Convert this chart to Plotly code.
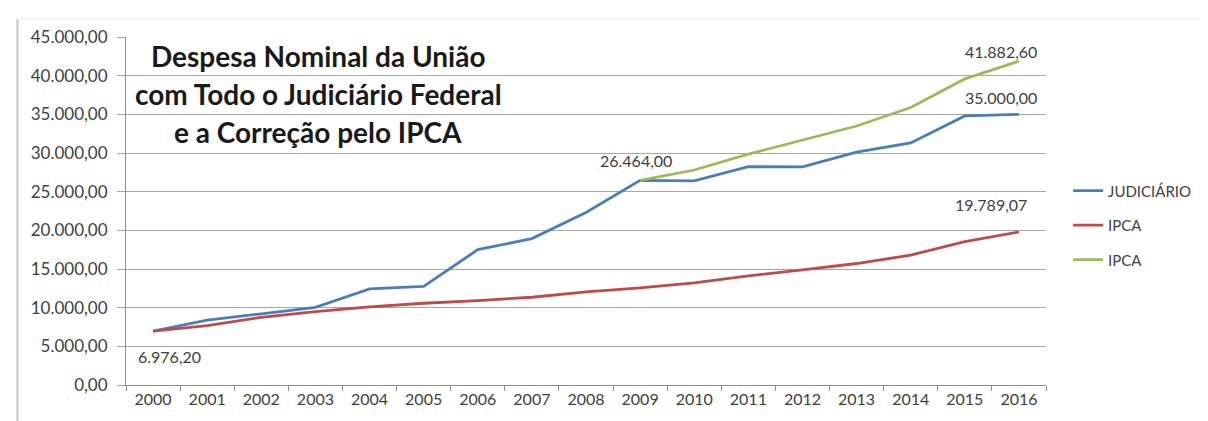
import plotly.graph_objects as go

years = [str(y) for y in range(2000, 2017)]
judiciario = [6976.20, 8400, 9200, 10050, 12430, 12740, 17500, 18930, 22300, 26464.00,
              26400, 28230, 28200, 30100, 31300, 34800, 35000.00]
ipca = [6976.20, 7670, 8750, 9490, 10090, 10570, 10920, 11350, 12030, 12550,
        13200, 14110, 14890, 15710, 16800, 18530, 19789.07]
ipca_years = years[9:]
ipca_2009 = [26464.00, 27800, 29850, 31640, 33490, 35880, 39580, 41882.60]

y_ticks = [0, 5000, 10000, 15000, 20000, 25000, 30000, 35000, 40000, 45000]
y_tick_text = ["0,00", "5.000,00", "10.000,00", "15.000,00", "20.000,00", "25.000,00",
               "30.000,00", "35.000,00", "40.000,00", "45.000,00"]
title_lines = ["Despesa Nominal da União", "com Todo o Judiciário Federal", "e a Correção pelo IPCA"]

BLUE = "#4a7ebb"
RED = "#be4b48"
GREEN = "#9bbb59"
FONT = "Lato, 'Open Sans', sans-serif"

fig = go.Figure()
fig.add_trace(go.Scatter(x=years, y=judiciario, mode="lines", name="JUDICIÁRIO",
                         line=dict(color=BLUE, width=2.8), legendgroup="a"))
fig.add_trace(go.Scatter(x=years, y=ipca, mode="lines", name="IPCA",
                         line=dict(color=RED, width=2.8), legendgroup="b"))
fig.add_trace(go.Scatter(x=ipca_years, y=ipca_2009, mode="lines", name="IPCA",
                         line=dict(color=GREEN, width=2.8), legendgroup="c"))

ann_font = dict(family=FONT, size=16, color="#404040")
i2000 = years.index("2000")
i2009 = years.index("2009")
i2016 = years.index("2016")
annotations = [
    dict(x=i2000, y=ipca[0], text="6.976,20", showarrow=False, xanchor="left",
         yanchor="middle", xshift=-17, yshift=-25, font=ann_font),
    dict(x=i2009, y=judiciario[i2009], text="26.464,00", showarrow=False, xanchor="center",
         yanchor="middle", xshift=-4, yshift=20, font=ann_font),
    dict(x=i2016, y=ipca_2009[-1], text="41.882,60", showarrow=False,
         xanchor="center", yanchor="middle", xshift=-18, yshift=10, font=ann_font),
    dict(x=i2016, y=judiciario[i2016], text="35.000,00", showarrow=False,
         xanchor="center", yanchor="middle", xshift=-18, yshift=17, font=ann_font),
    dict(x=i2016, y=ipca[i2016], text="19.789,07", showarrow=False,
         xanchor="center", yanchor="middle", xshift=-28, yshift=27, font=ann_font),
]
for line, yp in zip(title_lines, [0.945, 0.836, 0.727]):
    annotations.append(dict(x=0.2087, y=yp, xref="paper", yref="paper", text="<b>" + line + "</b>",
                            showarrow=False, xanchor="center", yanchor="middle",
                            font=dict(family=FONT, size=28, color="#1a1a1a")))

fig.update_layout(
    width=1208, height=421,
    margin=dict(l=118, r=170, t=29, b=44),
    paper_bgcolor="white", plot_bgcolor="white",
    font=dict(family=FONT, color="#404040"),
    showlegend=True,
    legend=dict(x=1.024, y=0.605, xanchor="left", yanchor="top",
                font=dict(family=FONT, size=15, color="#404040"),
                tracegroupgap=12, bgcolor="rgba(0,0,0,0)"),
    annotations=annotations,
    shapes=[
        dict(type="line", xref="paper", yref="paper", x0=-0.118, x1=-0.118, y0=-0.11, y1=1.052,
             line=dict(color="#c8c8c8", width=2)),
        dict(type="line", xref="paper", yref="paper", x0=-0.118, x1=1.17, y0=1.052, y1=1.052,
             line=dict(color="#ececec", width=1)),
    ],
)
fig.update_xaxes(type="category", range=[-0.5, len(years) - 0.5], showgrid=False,
                 showline=True, linecolor="#8c8c8c", linewidth=1,
                 ticks="outside", tickson="boundaries", ticklen=5, tickcolor="#8c8c8c",
                 tickfont=dict(family=FONT, size=16, color="#404040"), zeroline=False)
fig.update_yaxes(range=[0, 45000], tickvals=y_ticks, ticktext=y_tick_text,
                 showgrid=True, gridcolor="#a6a6a6", gridwidth=1,
                 showline=True, linecolor="#8c8c8c", linewidth=1,
                 ticks="outside", ticklen=8, tickcolor="#a6a6a6", ticklabelstandoff=6,
                 tickfont=dict(family=FONT, size=17, color="#404040"), zeroline=False)

fig.write_html("out.html")
